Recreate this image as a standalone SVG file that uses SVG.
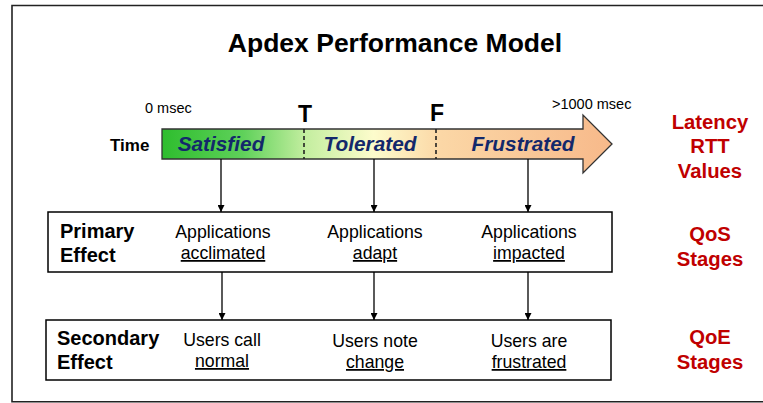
<svg xmlns="http://www.w3.org/2000/svg" width="763" height="403" viewBox="0 0 763 403">
  <defs>
    <linearGradient id="timeGrad" x1="162" y1="0" x2="612" y2="0" gradientUnits="userSpaceOnUse">
      <stop offset="0" stop-color="#2ebd2e"/>
      <stop offset="0.18" stop-color="#5fd15a"/>
      <stop offset="0.32" stop-color="#c4eea0"/>
      <stop offset="0.47" stop-color="#fdfccc"/>
      <stop offset="0.62" stop-color="#fbd7a6"/>
      <stop offset="1" stop-color="#f7b98a"/>
    </linearGradient>
    <marker id="arrow" viewBox="0 0 10 10" refX="10" refY="5" markerWidth="7" markerHeight="7" markerUnits="userSpaceOnUse" orient="auto">
      <path d="M0,0 L10,5 L0,10 Z" fill="#000"/>
    </marker>
    <style>
      text { font-family: "Liberation Sans", Arial, sans-serif; fill: #000; }
      .title { font-size: 26.5px; font-weight: bold; text-anchor: middle; }
      .small { font-size: 14.5px; }
      .mark { font-size: 23px; font-weight: bold; text-anchor: middle; }
      .zone { font-size: 20.8px; font-weight: bold; font-style: italic; fill: #13286b; text-anchor: middle; }
      .head { font-size: 20px; font-weight: bold; }
      .body { font-size: 17.7px; text-anchor: middle; }
      .ul { text-decoration: underline; }
      .side { font-size: 20.3px; font-weight: bold; fill: #c00000; text-anchor: middle; }
      .box { fill: #fff; stroke: #000; stroke-width: 1.5; }
      .conn { stroke: #000; stroke-width: 1.3; fill: none; marker-end: url(#arrow); }
    </style>
  </defs>

  <rect width="763" height="403" fill="#fff"/>
  <!-- outer frame, open on the right -->
  <path d="M775,5.5 L12,5.5 L12,401.8 L775,401.8" fill="none" stroke="#222" stroke-width="1.6"/>

  <text class="title" x="395" y="52">Apdex Performance Model</text>

  <!-- time axis -->
  <g id="time-arrow">
    <path d="M162,129 L583,129 L583,115 L612,144 L583,173 L583,159 L162,159 Z" fill="url(#timeGrad)" stroke="#333" stroke-width="1.3"/>
    <line x1="304" y1="129" x2="304" y2="159" stroke="#222" stroke-width="1.6" stroke-dasharray="4,3"/>
    <line x1="436" y1="129" x2="436" y2="159" stroke="#222" stroke-width="1.6" stroke-dasharray="4,3"/>
    <text class="zone" x="221" y="151">Satisfied</text>
    <text class="zone" x="370" y="151">Tolerated</text>
    <text class="zone" x="523" y="151">Frustrated</text>
  </g>
  <g id="time-labels">
    <text class="head" x="110" y="151" style="font-size:17px">Time</text>
    <text class="small" x="145" y="113">0 msec</text>
    <text class="small" x="552" y="109">&gt;1000 msec</text>
    <text class="mark" x="305" y="122">T</text>
    <text class="mark" x="437" y="121">F</text>
  </g>

  <!-- primary effect -->
  <g id="primary">
    <rect class="box" x="48" y="212" width="564" height="60"/>
    <text class="head" x="60" y="238">Primary</text>
    <text class="head" x="60" y="262">Effect</text>
    <text class="body" x="223" y="238">Applications</text>
    <text class="body ul" x="223" y="259">acclimated</text>
    <text class="body" x="375" y="238">Applications</text>
    <text class="body ul" x="375" y="259">adapt</text>
    <text class="body" x="529" y="238">Applications</text>
    <text class="body ul" x="529" y="259">impacted</text>
  </g>

  <!-- secondary effect -->
  <g id="secondary">
    <rect class="box" x="46" y="320" width="565" height="60"/>
    <text class="head" x="57" y="345">Secondary</text>
    <text class="head" x="57" y="369">Effect</text>
    <text class="body" x="222" y="346">Users call</text>
    <text class="body ul" x="222" y="367">normal</text>
    <text class="body" x="375" y="347">Users note</text>
    <text class="body ul" x="375" y="368">change</text>
    <text class="body" x="529" y="347">Users are</text>
    <text class="body ul" x="529" y="368">frustrated</text>
  </g>

  <!-- stage labels -->
  <g id="stage-latency">
    <text class="side" x="710" y="129">Latency</text>
    <text class="side" x="710" y="153">RTT</text>
    <text class="side" x="710" y="178">Values</text>
  </g>
  <g id="stage-qos">
    <text class="side" x="710" y="241">QoS</text>
    <text class="side" x="710" y="266">Stages</text>
  </g>
  <g id="stage-qoe">
    <text class="side" x="710" y="344">QoE</text>
    <text class="side" x="710" y="369">Stages</text>
  </g>

  <!-- connectors -->
  <g id="connectors">
    <line class="conn" x1="221" y1="159" x2="221" y2="212"/>
    <line class="conn" x1="374" y1="159" x2="374" y2="212"/>
    <line class="conn" x1="528" y1="159" x2="528" y2="212"/>
    <line class="conn" x1="222" y1="272" x2="222" y2="320"/>
    <line class="conn" x1="374" y1="272" x2="374" y2="320"/>
    <line class="conn" x1="528" y1="272" x2="528" y2="320"/>
  </g>
</svg>
